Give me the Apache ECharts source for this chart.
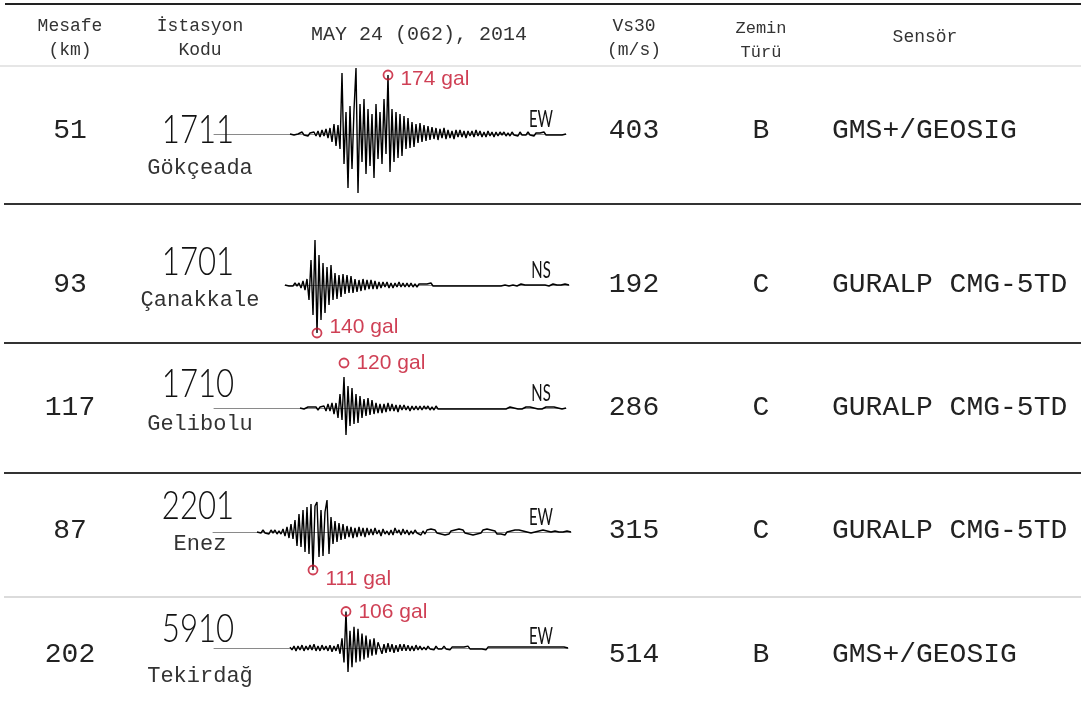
<!DOCTYPE html>
<html>
<head>
<meta charset="utf-8">
<script src="https://cdn.jsdelivr.net/npm/echarts@6/dist/echarts.min.js"></script>
<style>
html,body{margin:0;padding:0;background:#fff;}
#chart{width:1081px;height:720px;}
</style>
</head>
<body>
<div id="chart"></div>
<script>
// ---------------- DATA ----------------
const headers = [['Mesafe','(km)'], ['İstasyon','Kodu'], ['MAY 24 (062), 2014'], ['Vs30','(m/s)'], ['Zemin','Türü'], ['Sensör']];
const distances = [51, 93, 117, 87, 202];
const codes = ['1711', '1701', '1710', '2201', '5910'];
const names = ['Gökçeada', 'Çanakkale', 'Gelibolu', 'Enez', 'Tekirdağ'];
const components = ['EW', 'NS', 'NS', 'EW', 'EW'];
const pga = [174, 140, 120, 111, 106];
const vs30 = [403, 192, 286, 315, 514];
const soil = ['B', 'C', 'C', 'C', 'B'];
const sensors = ['GMS+/GEOSIG', 'GURALP CMG-5TD', 'GURALP CMG-5TD', 'GURALP CMG-5TD', 'GMS+/GEOSIG'];

// accelerograms (relative amplitude)
const wave1711 = [0,1,-1,1,0,-1,2,-1,1,-2,1,-1,2,-2,3,
 -3,4,-2,5,-4,6,
 -8,10,-12,9,-15,
 61,
 -30,22,-54,
 28,-35,24,
 66,
 -59,30,-28,
 35,-40,25,-32,20,
 -44,
 30,-25,22,-30,35,-20,
 59,
 -38,25,-28,22,-24,
 20,-22,18,-15,16,
 -14,12,-13,10,-9,
 11,-8,9,-7,8,
 -6,7,-5,6,-6,5,-4,6,-5,4,
 -4,3,-5,4,-3,4,-3,3,-4,3,-2,3,-3,4,-2,3,-3,2,-3,3,-2,2,-3,2,-2,
 2,-1,2,-2,1,-2,2,-1,1,-2,2,-1,1,-1,2,-1,1,-2,1,-1,1,-1,2,-1,1,-1,1,-1,1,-1,1,-1,0,0];
const wave1701 = [0,1,-1,1,-1,2,-1,2,
 -3,4,-5,6,
 -15,25,-30,
 45,
 -48,
 30,-35,22,
 -28,18,-20,
 20,-15,
 12,-14,10,-12,11,
 -9,10,-8,9,-8,
 6,-7,5,-6,6,
 -5,5,-4,5,-4,4,-4,
 3,-3,3,-2,3,-3,2,-3,2,-2,3,-2,2,-2,2,-2,2,-2,1,-2,
 1,-1,1,-1,1,-1,2,-1,1,-1,1,-1,1,-1,1,-1,1,-1,1,-1,
 1,-1,1,-1,1,-1,1,-1,1,-1,1,-1,1,-1,1,-1,1,-1,1,-1,
 1,-1,1,0,1,-1,1,0,1,-1,0,1,-1,0,1,0,-1,0,1,0,
 -1,0,1,0,0,-1,0,1,0,0,-1,0,0,1,0,0];
const wave1710 = [0,1,-1,0,1,-1,1,-1,1,-2,1,-1,2,
 -3,4,-3,5,-6,5,
 -10,14,-12,
 31,
 -27,
 22,-18,20,-16,
 14,-15,12,-10,
 9,-8,10,-7,8,-6,
 5,-5,4,-5,4,-4,5,-3,4,-3,3,-4,
 3,-2,3,-2,2,-3,2,-2,2,-2,2,-2,2,-1,2,-2,1,-2,2,-1,
 1,-1,1,-1,1,-1,1,-1,1,-1,1,-1,1,-1,1,-1,
 1,-1,1,-1,1,-1,1,-1,1,-1,1,-1,1,-1,1,-1,
 1,-1,0,1,-1,0,1,-1,1,-1,0,1,-1,1,-1,0,
 1,-1,1,-1,0,1,-1,1,-1,1,-1,0,1,-1,0,0];
const wave2201 = [0,1,-1,2,-1,1,-2,2,-1,2,-2,1,-2,3,
 -4,5,-6,8,-7,
 12,-14,18,-15,22,
 -20,25,-22,28,
 -38,
 26,
 30,
 -25,22,-24,20,
 32,
 -22,15,-12,11,
 -10,9,-8,8,-7,
 6,-5,5,-6,4,-5,5,-4,4,-5,4,-3,
 3,-3,4,-2,2,-4,3,-2,1,-3,2,-3,4,-1,2,-3,3,-2,2,-3,
 1,-2,2,-1,0,-3,1,-2,2,0,3,1,2,-1,1,-2,0,-3,-1,-2,
 1,-1,2,0,3,1,2,-1,0,-2,-1,-3,-1,-2,0,-1,2,1,3,1,
 2,0,1,-2,0,-2,-1,-3,0,-1,1,0,2,1,2,0,1,-1,0,-2,
 -1,-2,0,-1,1,0,2,1,1,-1,0,-1,1,-1,0,1,0,-1,1,0,
 0];
const wave5910 = [1,-2,2,-3,2,-2,3,-3,2,-2,3,-2,4,-3,2,-3,3,-2,2,-3,3,-4,2,-3,4,
 -6,10,-15,
 38,
 -25,
 18,-20,22,-15,20,
 -14,15,-12,13,-10,
 9,-8,10,-7,6,
 5,-6,4,-5,5,-4,4,-5,3,-4,4,-3,4,-3,3,-3,2,-3,3,-2,
 2,-2,1,-2,2,-1,1,-2,2,-1,1,-1,2,-1,1,-2,1,-1,1,-1,
 1,-1,1,-1,2,-1,1,-1,1,-1,1,-1,1,-2,1,-1,1,-1,1,-1,
 1,-1,1,-1,1,-1,1,-1,1,-1,1,-1,1,-1,1,-1,1,-1,1,-1,
 1,-1,1,-1,1,-1,1,-1,1,-1,1,-1,1,0,0];
const waves = [wave1711, wave1701, wave1710, wave2201, wave5910];
const peakIdx = [49, 16, 22, 28, 28];

// ---------------- LAYOUT ----------------
const W = 1081, H = 720;
const PX = 2;                 // pixels per sample
const AMP = 75;               // half height of each trace area
const baseY = [134, 285, 408, 532, 651];
const waveX0 = [290, 285, 300, 257, 290];
const lineStart = [213, 285, 213, 213, 213];
const textY = [131, 285, 408, 531, 655];
const codeY = [130, 262, 384, 506, 629];
const nameY = [168, 300, 424, 544, 676];
const markOffset = [[0,0],[0,0],[0,-14],[0,0],[0,0]];
const labelOffset = [[0,4],[0,-6],[0,0],[0,9],[0,1]];
const colX = [70, 200, 419, 634, 761, 925];
const headY = [[26, 50], [26, 50], [35], [26, 50], [28, 52], [37]];
const headSize = [18, 18, 20, 18, 17, 18];
const sensorLeft = 832;
const compX = 541;
const RED = '#c3102a';
const INK = '#222';
const MONO = '"Courier New", Courier, "Liberation Mono", monospace';
const NARROW = 'Lato, "Liberation Sans", Arial, sans-serif';

const grids = [], xAxes = [], yAxes = [], series = [];
waves.forEach((w, r) => {
  const xmin = Math.round((lineStart[r] - waveX0[r]) / PX);
  const xmax = w.length - 1;
  grids.push({left: waveX0[r] + PX * xmin, width: PX * (xmax - xmin), top: baseY[r] - AMP, height: 2 * AMP});
  xAxes.push({gridIndex: r, type: 'value', min: xmin, max: xmax,
    axisLine: {show: true, onZero: true, lineStyle: {color: '#8a8a8a', width: 1}},
    axisTick: {show: false}, axisLabel: {show: false}, splitLine: {show: false}});
  yAxes.push({gridIndex: r, type: 'value', min: -AMP, max: AMP, show: false});
  series.push({type: 'line', xAxisIndex: r, yAxisIndex: r, symbol: 'none', sampling: null,
    lineStyle: {color: '#000', width: 1.4}, silent: true, z: 3,
    data: w.map((v, i) => [i, v])});
  const p = peakIdx[r];
  series.push({type: 'scatter', xAxisIndex: r, yAxisIndex: r, symbol: 'circle', symbolSize: 9,
    symbolOffset: markOffset[r], silent: true, z: 5,
    itemStyle: {color: 'rgba(255,255,255,0)', borderColor: RED, borderWidth: 1.8},
    label: {show: true, position: 'right', distance: 7, offset: labelOffset[r],
      formatter: () => pga[r] + ' gal', color: RED, fontSize: 21, fontFamily: '"Liberation Sans", Arial, sans-serif'},
    data: [[p, w[p]]]});
});

const g = [];
function txt(x, y, s, font, align, sx, fill) {
  g.push({type: 'text', x: x, y: y, scaleX: sx || 1, silent: true, z: 10,
    style: {text: s, font: font, fill: fill || INK, textAlign: align || 'center', textVerticalAlign: 'middle'}});
}
function hline(y, x1, color, lw) {
  g.push({type: 'line', silent: true, z: 1, shape: {x1: x1, y1: y, x2: W, y2: y}, style: {stroke: color, lineWidth: lw}});
}
// rules
hline(4, 5, '#222', 2);
hline(66, 0, '#dedede', 1.5);
hline(204, 4, '#333', 2);
hline(343, 4, '#333', 2);
hline(473, 4, '#333', 2);
hline(597, 4, '#cfcfcf', 1.5);
// header
headers.forEach((lines, c) => {
  lines.forEach((s, k) => txt(colX[c], headY[c][k], s, headSize[c] + 'px ' + MONO, 'center', 1, '#333'));
});
// rows
for (let r = 0; r < 5; r++) {
  txt(colX[0], textY[r], String(distances[r]), '28px ' + MONO);
  txt(colX[1] - 2, codeY[r], codes[r], '300 40px ' + NARROW, 'center', 0.78, '#111');
  txt(colX[1], nameY[r], names[r], '22px ' + MONO, 'center', 1, '#333');
  txt(compX, baseY[r] - 15, components[r], '400 24px ' + NARROW, 'center', 0.62, '#111');
  txt(colX[3], textY[r], String(vs30[r]), '28px ' + MONO);
  txt(colX[4], textY[r], soil[r], '28px ' + MONO);
  txt(sensorLeft, textY[r], sensors[r], '28px ' + MONO, 'left');
}

const chart = echarts.init(document.getElementById('chart'), null, {renderer: 'canvas'});
chart.setOption({
  animation: false,
  backgroundColor: '#fff',
  grid: grids, xAxis: xAxes, yAxis: yAxes, series: series,
  graphic: {elements: g}
});
</script>
</body>
</html>
